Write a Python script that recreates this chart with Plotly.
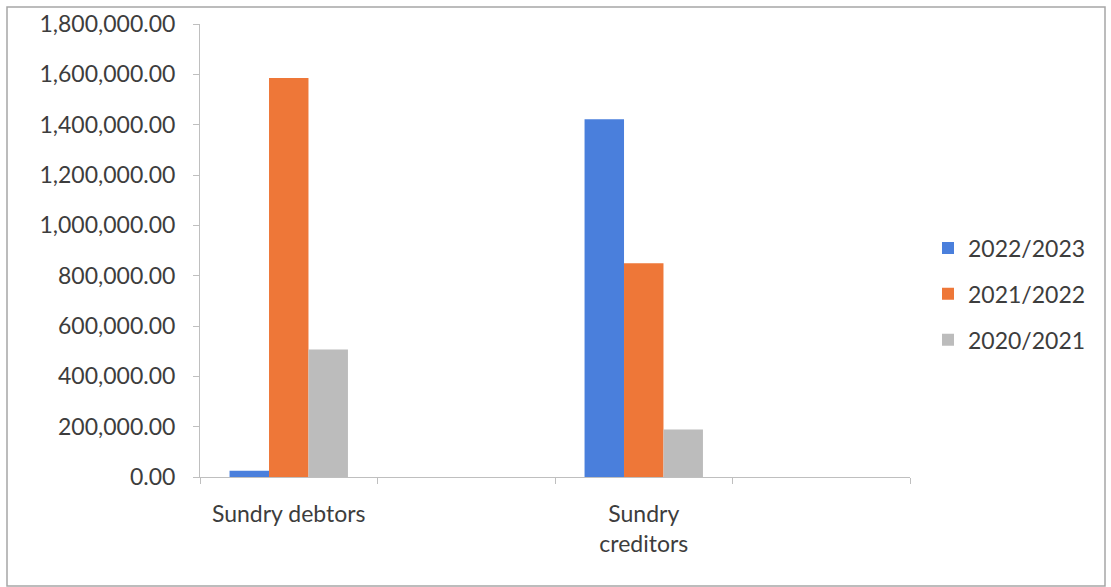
import plotly.graph_objects as go

# Category slots on the x axis (two slots are left blank)
categories = ["Sundry debtors", " ", "Sundry<br>creditors", "  "]
series_names = ["2022/2023", "2021/2022", "2020/2021"]
values_2022_2023 = [25000, None, 1422000, None]
values_2021_2022 = [1585000, None, 849000, None]
values_2020_2021 = [507000, None, 189000, None]
y_ticks = [0, 200000, 400000, 600000, 800000, 1000000, 1200000, 1400000, 1600000, 1800000]

colors = ["#4a7fdc", "#ee7738", "#bcbcbc"]
series_values = [values_2022_2023, values_2021_2022, values_2020_2021]
text_color = "#3d3d3d"
font_family = "Lato, 'Open Sans', sans-serif"

fig = go.Figure()
for name, vals, col in zip(series_names, series_values, colors):
    fig.add_trace(go.Bar(
        x=categories, y=vals, name=name, marker=dict(color=col, line=dict(width=0)),
        legendgroup=name,
    ))

W, H = 1111, 587
ml, mr, mt, mb = 200, 201, 24, 110
pw, ph = W - ml - mr, H - mt - mb

fig.update_layout(
    width=W, height=H,
    margin=dict(l=ml, r=mr, t=mt, b=mb, pad=0, autoexpand=False),
    paper_bgcolor="white", plot_bgcolor="white",
    barmode="group", bargap=0.333, bargroupgap=0,
    font=dict(family=font_family, size=23, color=text_color),
    showlegend=True,
    legend=dict(xref="container", yref="container", x=928 / W, xanchor="left",
                y=(H - 294) / H, yanchor="middle",
                font=dict(size=23, color=text_color), tracegroupgap=13,
                itemwidth=30, bgcolor="rgba(0,0,0,0)"),
    xaxis=dict(type="category", categoryorder="array", categoryarray=categories,
               range=[-0.5, 3.5], showline=True, linecolor="#bfbfbf", linewidth=1,
               ticks="outside", tickson="boundaries", ticklen=6, tickcolor="#bfbfbf",
               ticklabelstandoff=16, showgrid=False, zeroline=False,
               tickfont=dict(size=23, color=text_color)),
    yaxis=dict(range=[0, 1800000], tickvals=y_ticks, tickformat=",.2f",
               showline=True, linecolor="#bfbfbf", linewidth=1,
               ticks="outside", ticklen=6, tickcolor="#bfbfbf",
               ticklabelstandoff=13, showgrid=False, zeroline=False,
               tickfont=dict(size=23, color=text_color)),
)

# Outer frame around the chart area
fig.add_shape(type="rect", xref="paper", yref="paper",
              x0=(7 - ml) / pw, x1=(1105 - ml) / pw,
              y0=(H - mb - 586) / ph, y1=(H - mb - 7) / ph,
              line=dict(color="#a6a6a6", width=1.5), fillcolor="rgba(0,0,0,0)", layer="below")

fig.write_html("out.html")
